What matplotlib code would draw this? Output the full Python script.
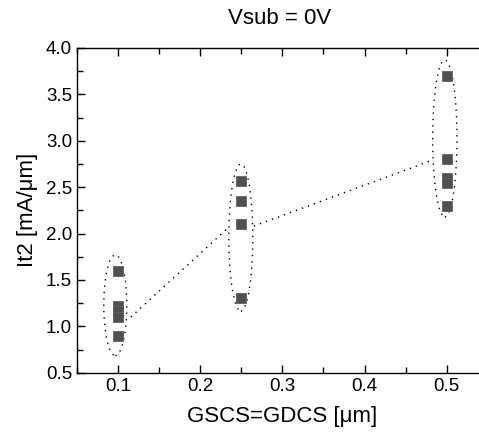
import numpy as np
import matplotlib
matplotlib.use("Agg")
import matplotlib.pyplot as plt
import matplotlib.patches as patches
from matplotlib.ticker import MultipleLocator

plt.rcParams["font.family"] = ["Liberation Sans", "DejaVu Sans"]

# measured It2 values per spacing
gap_01 = [1.60, 1.22, 1.16, 1.10, 0.90]
gap_025 = [2.57, 2.35, 2.10, 1.30]
gap_05 = [3.70, 2.80, 2.60, 2.55, 2.30]
spacing = [0.1, 0.25, 0.5]

# dotted guide line (runs between ellipse edges)
trend_x = [0.1155, 0.2324, None, 0.2653, 0.4833]
trend_y = [1.10, 2.049, None, 2.081, 2.793]

# ellipses around each group: (cx, cy, w, h)
groups = [
    (0.0966, 1.227, 0.028, 1.085),
    (0.2494, 1.957, 0.0292, 1.585),
    (0.4977, 3.025, 0.0296, 1.692),
]

W, H = 479, 441
fig = plt.figure(figsize=(W / 100, H / 100), dpi=100)
ax = fig.add_axes([77 / W, 1 - 372.7 / H, (487.8 - 77) / W, (372.7 - 48) / H])

for x, vals in zip(spacing, [gap_01, gap_025, gap_05]):
    ax.plot([x] * len(vals), vals, linestyle="none", marker="s",
            markersize=7.2, color="#505050", markeredgecolor="#606060",
            markeredgewidth=0.6)

dots = (0, (1.0, 3.6))
ax.plot(trend_x[:2], trend_y[:2], color="black", lw=1.0, linestyle=dots)
ax.plot(trend_x[3:], trend_y[3:], color="black", lw=1.0, linestyle=dots)

for cx, cy, w, h in groups:
    e = patches.Ellipse((cx, cy), w, h, fill=False, edgecolor="black",
                        lw=1.0, linestyle=dots)
    ax.add_patch(e)

ax.set_xlim(0.05, 0.55)
ax.set_ylim(0.5, 4.0)
ax.xaxis.set_major_locator(MultipleLocator(0.1))
ax.xaxis.set_minor_locator(MultipleLocator(0.05))
ax.yaxis.set_major_locator(MultipleLocator(0.5))
ax.yaxis.set_minor_locator(MultipleLocator(0.25))
ax.tick_params(which="both", direction="in", top=True, right=True,
               labelsize=13.5, width=1.0)
ax.tick_params(which="major", length=6)
ax.tick_params(which="minor", length=4)
for s in ax.spines.values():
    s.set_linewidth(1.0)

ax.set_xlabel("GSCS=GDCS [\u03bcm]", fontsize=16, labelpad=8)
ax.set_ylabel("It2 [mA/\u03bcm]", fontsize=16, labelpad=6)
fig.text(280 / W, 1 - 19 / H, "Vsub = 0V", fontsize=16,
         ha="center", va="center")

plt.savefig("out.png", dpi=100)
